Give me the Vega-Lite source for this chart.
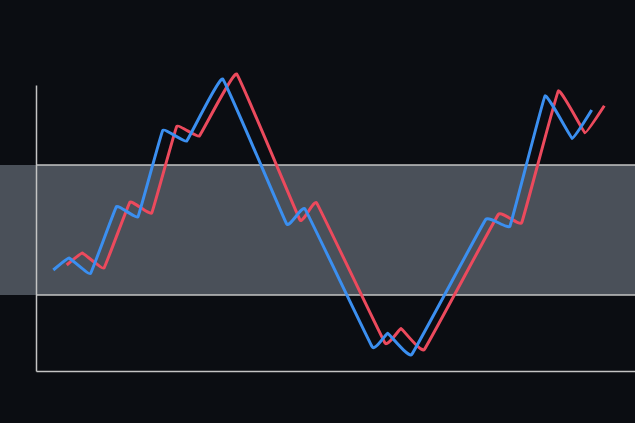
{
  "$schema": "https://vega.github.io/schema/vega-lite/v6.json",
  "width": 599,
  "height": 286,
  "autosize": "none",
  "padding": {"left": 36, "top": 85, "right": 0, "bottom": 52},
  "background": "#0b0d12",
  "config": {"view": {"stroke": null}},
  "datasets": {
    "band": [{"x0": -36, "x1": 599, "lo": 76, "hi": 206}],
    "levels": [{"level": 76}, {"level": 206}],
    "series": [
      {"s": "red", "t": 30.7, "v": 106},
      {"s": "red", "t": 46.3, "v": 118},
      {"s": "red", "t": 68, "v": 103},
      {"s": "red", "t": 94, "v": 169},
      {"s": "red", "t": 115.7, "v": 158},
      {"s": "red", "t": 140.7, "v": 244.5},
      {"s": "red", "t": 163.3, "v": 235},
      {"s": "red", "t": 200.7, "v": 297},
      {"s": "red", "t": 264, "v": 151},
      {"s": "red", "t": 280.7, "v": 168},
      {"s": "red", "t": 349, "v": 28},
      {"s": "red", "t": 365, "v": 42.5},
      {"s": "red", "t": 388.3, "v": 21.5},
      {"s": "red", "t": 462.3, "v": 156.5},
      {"s": "red", "t": 485.7, "v": 148.3},
      {"s": "red", "t": 522.3, "v": 280},
      {"s": "red", "t": 549, "v": 238.3},
      {"s": "red", "t": 568.3, "v": 265.3},
      {"s": "blue", "t": 17.3, "v": 101},
      {"s": "blue", "t": 33, "v": 113},
      {"s": "blue", "t": 54.5, "v": 97.5},
      {"s": "blue", "t": 80.5, "v": 164.5},
      {"s": "blue", "t": 102, "v": 154.3},
      {"s": "blue", "t": 126.7, "v": 240.5},
      {"s": "blue", "t": 150.7, "v": 230},
      {"s": "blue", "t": 186.7, "v": 292},
      {"s": "blue", "t": 250.7, "v": 147},
      {"s": "blue", "t": 269, "v": 162},
      {"s": "blue", "t": 336.3, "v": 24},
      {"s": "blue", "t": 351.7, "v": 37.7},
      {"s": "blue", "t": 375.7, "v": 16.5},
      {"s": "blue", "t": 449.7, "v": 151.5},
      {"s": "blue", "t": 474, "v": 145},
      {"s": "blue", "t": 509, "v": 275},
      {"s": "blue", "t": 536.3, "v": 232.5},
      {"s": "blue", "t": 555.7, "v": 261}
    ]
  },
  "layer": [
    {
      "data": {"name": "band"},
      "mark": {"type": "rect", "color": "#4a5059", "clip": false},
      "encoding": {
        "x": {"field": "x0", "type": "quantitative", "scale": {"domain": [0, 599], "nice": false, "zero": false}, "axis": {"zindex": 1, "domain": true, "domainColor": "#c4c4c4", "domainWidth": 1.5, "ticks": false, "labels": false, "grid": false, "title": null}},
        "x2": {"field": "x1"},
        "y": {"field": "lo", "type": "quantitative", "scale": {"domain": [0, 286], "nice": false, "zero": false}, "axis": {"zindex": 1, "domain": true, "domainColor": "#c4c4c4", "domainWidth": 1.5, "ticks": false, "labels": false, "grid": false, "title": null}},
        "y2": {"field": "hi"}
      }
    },
    {
      "data": {"name": "levels"},
      "mark": {"type": "rule", "color": "#c4c4c4", "strokeWidth": 1.5},
      "encoding": {
        "y": {"field": "level", "type": "quantitative"}
      }
    },
    {
      "data": {"name": "series"},
      "transform": [{"filter": "datum.s === 'red'"}],
      "mark": {"type": "line", "color": "#ec4a5d", "strokeWidth": 3, "strokeJoin": "round", "strokeCap": "butt", "interpolate": "cardinal", "tension": 0.8, "clip": false},
      "encoding": {
        "x": {"field": "t", "type": "quantitative"},
        "y": {"field": "v", "type": "quantitative"}
      }
    },
    {
      "data": {"name": "series"},
      "transform": [{"filter": "datum.s === 'blue'"}],
      "mark": {"type": "line", "color": "#3b8ff0", "strokeWidth": 3, "strokeJoin": "round", "strokeCap": "butt", "interpolate": "cardinal", "tension": 0.8, "clip": false},
      "encoding": {
        "x": {"field": "t", "type": "quantitative"},
        "y": {"field": "v", "type": "quantitative"}
      }
    }
  ]
}
